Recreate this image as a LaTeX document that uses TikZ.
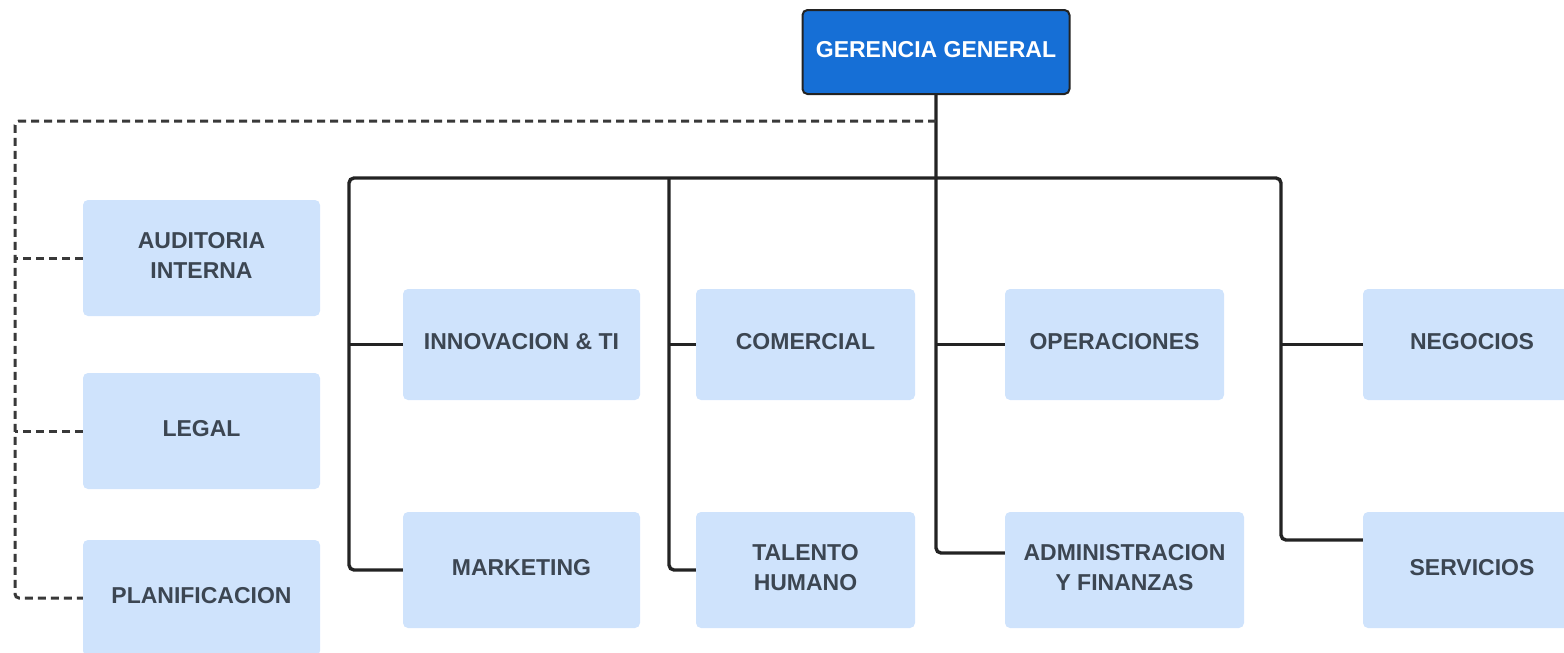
\documentclass[tikz,border=0pt]{standalone}
\usepackage{fontspec}
\setmainfont{Liberation Sans}
\definecolor{ggblue}{RGB}{22,111,214}
\definecolor{boxblue}{RGB}{207,227,252}
\definecolor{boxtext}{RGB}{60,70,82}
\definecolor{linegray}{RGB}{35,35,35}

\begin{document}
\begin{tikzpicture}[
  x=1pt,
  y=-1pt,
  head/.style={draw=linegray, line width=2pt, fill=ggblue, rounded corners=5pt,
    text=white, font=\bfseries\fontsize{23}{29}\selectfont,
    minimum width=267, minimum height=84, inner sep=0pt, text depth=5pt},
  unit/.style={fill=boxblue, rounded corners=5pt, align=center, text=boxtext,
    font=\bfseries\fontsize{23}{30}\selectfont, inner sep=0pt, text depth=6pt,
    minimum width=237, minimum height=116},
  link/.style={draw=linegray, line width=3.4pt, rounded corners=5pt},
  staff/.style={draw=linegray!90, line width=3pt, dash pattern=on 8pt off 5pt,
    rounded corners=4pt}
]
\clip (0,0) rectangle (1564,653);
% top
\node[head] (gg) at (936,52) {GERENCIA GENERAL};
% staff units
\node[unit] (aud) at (201.5,258) {AUDITORIA\\INTERNA};
\node[unit] (leg) at (201.5,431) {LEGAL};
\node[unit] (plan) at (201.5,598) {PLANIFICACION};
% line units
\node[unit, minimum height=111] (inno) at (521.5,344.5) {INNOVACION \& TI};
\node[unit] (mkt) at (521.5,570) {MARKETING};
\node[unit, minimum width=219, minimum height=111] (com) at (805.5,344.5) {COMERCIAL};
\node[unit, minimum width=219] (th) at (805.5,570) {TALENTO\\HUMANO};
\node[unit, minimum width=219, minimum height=111] (ope) at (1114.5,344.5) {OPERACIONES};
\node[unit, minimum width=239] (adm) at (1124.5,570) {ADMINISTRACION\\Y FINANZAS};
\node[unit, minimum width=218, minimum height=111] (neg) at (1472,344.5) {NEGOCIOS};
\node[unit, minimum width=218] (serv) at (1472,570) {SERVICIOS};
% junctions
\coordinate (c1) at (349,178);
\coordinate (c2) at (669,178);
\coordinate (c4) at (1281,178);
\coordinate (dtop) at (936,121);
\coordinate (dl) at (15,121);
% solid links
\draw[link] (mkt.west) -| (c1) -- (c4) |- ([yshift=30]serv.west);
\draw[link] (c2) |- (th.west);
\draw[link] (gg.south) |- ([yshift=17]adm.west);
\draw[link] (inno.west) -- (inno.west -| c1);
\draw[link] (com.west) -- (com.west -| c2);
\draw[link] (ope.west) -- (ope.west -| gg.south);
\draw[link] (neg.west) -- (neg.west -| c4);
% staff links
\draw[staff] (dtop) -- (dl) |- (plan.west);
\draw[staff] (aud.west) -- (aud.west -| dl);
\draw[staff] (leg.west) -- (leg.west -| dl);
\end{tikzpicture}
\end{document}
